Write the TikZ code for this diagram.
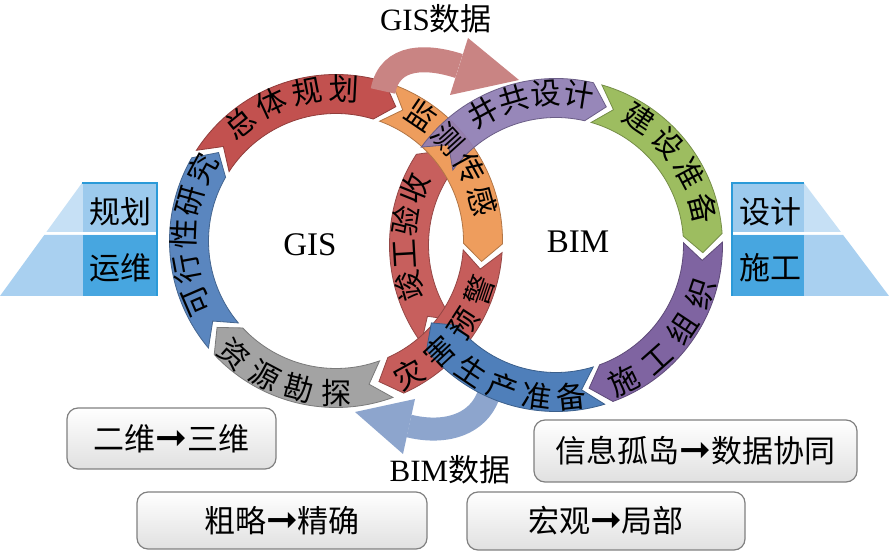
\documentclass[tikz,border=0pt]{standalone}
\usepackage{fontspec}
\setmainfont{Liberation Serif}
\newfontfamily\cjk{Noto Sans CJK SC}
\newfontfamily\arrowfont{DejaVu Sans}
\usepackage{tikz}
\usetikzlibrary{decorations.text}

\definecolor{gisblue}{HTML}{5A86BF}
\definecolor{gisred}{HTML}{C2514F}
\definecolor{gisorange}{HTML}{EE9D5D}
\definecolor{gispink}{HTML}{C65D5B}
\definecolor{gisgray}{HTML}{A3A3A3}
\definecolor{bimpurple}{HTML}{8F7DB4}
\definecolor{bimgreen}{HTML}{9DBD60}
\definecolor{bimviolet}{HTML}{7F64A1}
\definecolor{bimblue}{HTML}{4F7FBA}
\definecolor{bimred}{HTML}{C75F5D}
\definecolor{gisdata}{HTML}{C98483}
\definecolor{bimdata}{HTML}{8DA5CD}
\definecolor{sidepale}{HTML}{C6E0F5}
\definecolor{sidelight}{HTML}{A9D0F0}
\definecolor{sidemid}{HTML}{9CCAED}
\definecolor{sidedeep}{HTML}{47A6E0}
\definecolor{sideline}{HTML}{2B9AD8}

\newcommand\ringfont{\cjk\fontsize{30}{30}\selectfont}
\newcommand\stagearrow{{\arrowfont\fontsize{38}{30}\selectfont ➞}}
% one chevron arc of a ring: style, tail angle, head angle
\newcommand\ringarrow[3]{%
  \path[#1] (#2:166.5) arc[start angle=#2, end angle=#3, radius=166.5]
    -- ({#3-7}:147) -- (#3:127.5) arc[start angle=#3, end angle=#2, radius=127.5]
    -- ({#2-7}:147) -- cycle;}

\tikzset{
  seg/.style={fill=#1, draw=#1!75!black, line width=0.8pt},
  ringtext/.style={decorate, decoration={text along path, text={|\ringfont|#1},
    text align={fit to path}, raise=-11.4pt}},
  stagebox/.style={draw=black!50, line width=1.2pt, rounded corners=11pt,
    top color=white, bottom color=black!12, inner sep=0pt,
    font=\cjk\fontsize{31}{31}\selectfont},
  sidetext/.style={font=\cjk\fontsize{31}{31}\selectfont, inner sep=0pt},
  ringlabel/.style={font=\fontsize{33}{33}\selectfont, inner sep=0pt},
  datalabel/.style={font=\fontsize{31}{31}\selectfont, inner sep=0pt},
}

\begin{document}
\begin{tikzpicture}[x=1pt,y=1pt]
\path[use as bounding box, fill=white] (0,0) rectangle (889,554);

% rings
\begin{scope}[shift={(556,309)}]
  \ringarrow{seg=bimred}{216}{147}
\end{scope}
\begin{scope}[shift={(336,313)}]
  \ringarrow{seg=gisblue}{220}{150}
  \ringarrow{seg=gisred}{147}{73}
  \ringarrow{seg=gisgray}{-70}{-137}
  \ringarrow{seg=gispink}{-4}{-66}
  \ringarrow{seg=gisorange}{70}{-1}
\end{scope}
\begin{scope}[shift={(556,309)}]
  \ringarrow{seg=bimpurple, fill opacity=0.92}{144}{77}
  \ringarrow{seg=bimgreen}{74}{4}
  \ringarrow{seg=bimviolet}{1}{-70}
\end{scope}

% data arrows
\draw[gisdata, line width=25pt] (383,463) .. controls (390,500) and (428,498) .. (459,488);
\fill[gisdata] (468,516) -- (519,474) -- (450,459) -- cycle;
\draw[bimdata, line width=23pt] (492,175) .. controls (488,132) and (450,118) .. (409,128);
\fill[bimdata] (415,155) -- (355,142) -- (403,100) -- cycle;

\begin{scope}[shift={(556,309)}]
  \ringarrow{seg=bimblue}{-73}{-141}
\end{scope}

% ring texts
\begin{scope}[shift={(336,313)}]
  \path[ringtext=可行性研究] (209:152) arc[start angle=209, end angle=146, radius=152];
  \path[ringtext=总体规划] (134.7:152) arc[start angle=134.7, end angle=81.3, radius=152];
  \path[ringtext=监测传感] (61.5:152) arc[start angle=61.5, end angle=9.5, radius=152];
  \path[ringtext=灾害预警] (-66.7:152) arc[start angle=-66.7, end angle=-13.3, radius=152];
  \path[ringtext=资源勘探] (-137.7:152) arc[start angle=-137.7, end angle=-84.3, radius=152];
\end{scope}
\begin{scope}[shift={(556,309)}]
  \path[ringtext=井共设计] (124.5:152) arc[start angle=124.5, end angle=75.5, radius=152];
  \path[ringtext=建设准备] (62.25:152) arc[start angle=62.25, end angle=8.25, radius=152];
  \path[ringtext=施工组织] (-69:152) arc[start angle=-69, end angle=-13, radius=152];
  \path[ringtext=生产准备] (-129.5:152) arc[start angle=-129.5, end angle=-78.5, radius=152];
  \path[ringtext=竣工验收] (201.5:152) arc[start angle=201.5, end angle=152.5, radius=152];
\end{scope}

\node[ringlabel] (gis) at (310,309) {GIS};
\node[ringlabel] (bim) at (578,312) {BIM};
\node[datalabel] (gisdatalabel) at (436,535) {GIS{\cjk 数据}};
\node[datalabel] (bimdatalabel) at (450,84) {BIM{\cjk 数据}};

% side blocks
\fill[sidelight] (0,258) -- (157,258) -- (157,319) -- (44.3,319) -- cycle;
\fill[sidepale] (46.4,322) -- (157,322) -- (157,371) -- (82,371) -- cycle;
\fill[sidedeep] (83,258) rectangle (157,319);
\fill[sidemid] (83,322) rectangle (157,371);
\draw[sideline, line width=1.2pt] (82,371) -- (157,371) -- (157,258);
\node[sidetext] (plan) at (120,342) {规划};
\node[sidetext] (operate) at (120,286) {运维};

\fill[sidelight] (889,258) -- (732,258) -- (732,319) -- (843.1,319) -- cycle;
\fill[sidepale] (840.9,322) -- (732,322) -- (732,371) -- (804,371) -- cycle;
\fill[sidedeep] (732,258) rectangle (804,319);
\fill[sidemid] (732,322) rectangle (804,371);
\draw[sideline, line width=1.2pt] (804,371) -- (732,371) -- (732,258);
\node[sidetext] (design) at (770,342) {设计};
\node[sidetext] (build) at (770,286) {施工};

% stage boxes
\node[stagebox, minimum width=209pt, minimum height=61pt] (dims) at (171.5,115.5) {二维\stagearrow 三维};
\node[stagebox, minimum width=290pt, minimum height=57pt] (detail) at (282,33.5) {粗略\stagearrow 精确};
\node[stagebox, minimum width=323pt, minimum height=62pt] (share) at (695.5,103) {信息孤岛\stagearrow 数据协同};
\node[stagebox, minimum width=278pt, minimum height=58pt] (scale) at (606,33) {宏观\stagearrow 局部};
\end{tikzpicture}
\end{document}
